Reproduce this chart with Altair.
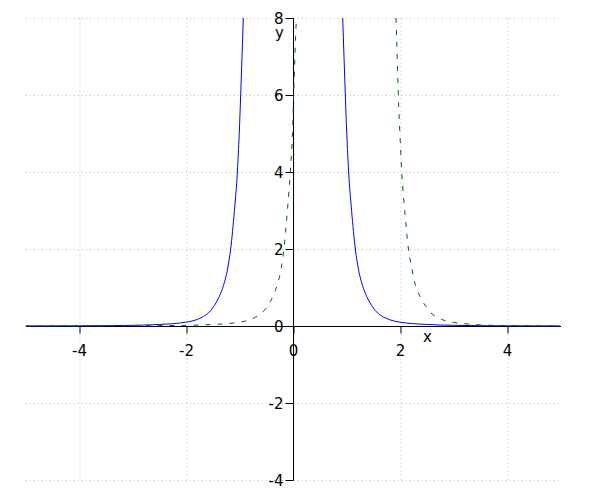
import altair as alt
import pandas as pd

# Blue solid curve (two branches)
blue_left_x = [-5.0, -4.5, -4.0, -3.5, -3.0, -2.5, -2.25, -2.0, -1.81, -1.7, -1.58, -1.5, -1.44, -1.38, -1.3, -1.22, -1.165, -1.095, -1.04, -1.005, -0.978, -0.953, -0.929]
blue_left_y = [0.002, 0.003, 0.005, 0.009, 0.017, 0.04, 0.06, 0.1, 0.16, 0.23, 0.34, 0.47, 0.6, 0.76, 1.05, 1.5, 2.0, 3.0, 4.0, 5.0, 6.0, 7.0, 8.0]
blue_right_x = [0.929, 0.953, 0.978, 1.005, 1.04, 1.095, 1.165, 1.22, 1.3, 1.38, 1.44, 1.5, 1.58, 1.7, 1.81, 2.0, 2.25, 2.5, 3.0, 3.5, 4.0, 4.5, 5.0]
blue_right_y = [8.0, 7.0, 6.0, 5.0, 4.0, 3.0, 2.0, 1.5, 1.05, 0.76, 0.6, 0.47, 0.34, 0.23, 0.16, 0.1, 0.06, 0.04, 0.017, 0.009, 0.005, 0.003, 0.002]

# Green dashed curve (two branches)
green_left_x = [-5.0, -4.0, -3.0, -2.5, -2.0, -1.5, -1.25, -1.0, -0.81, -0.7, -0.6, -0.5, -0.44, -0.37, -0.3, -0.22, -0.17, -0.105, -0.05, -0.01, 0.012, 0.036, 0.062]
green_left_y = [0.0005, 0.002, 0.005, 0.01, 0.017, 0.04, 0.06, 0.1, 0.16, 0.23, 0.32, 0.47, 0.6, 0.78, 1.05, 1.5, 2.0, 3.0, 4.0, 5.0, 6.0, 7.0, 8.0]
green_right_x = [1.925, 1.948, 1.968, 1.998, 2.033, 2.088, 2.158, 2.22, 2.29, 2.37, 2.44, 2.5, 2.57, 2.68, 2.78, 3.0, 3.25, 3.5, 3.75, 4.0, 4.5, 5.0]
green_right_y = [8.0, 7.0, 6.0, 5.0, 4.0, 3.0, 2.0, 1.5, 1.05, 0.78, 0.6, 0.48, 0.35, 0.24, 0.17, 0.095, 0.055, 0.028, 0.018, 0.012, 0.006, 0.004]

x_ticks = [-4, -2, 0, 2, 4]
y_ticks = [-4, -2, 0, 2, 4, 6, 8]

FONT = "DejaVu Sans"


def frame(xs, ys, branch):
    return pd.DataFrame({"x": xs, "y": ys, "branch": branch, "order": range(len(xs))})


blue_df = pd.concat([frame(blue_left_x, blue_left_y, "bl"), frame(blue_right_x, blue_right_y, "br")])
green_df = pd.concat([frame(green_left_x, green_left_y, "gl"), frame(green_right_x, green_right_y, "gr")])

W, H = 535, 462
xscale = alt.Scale(domain=[-5, 5], nice=False, zero=False)
yscale = alt.Scale(domain=[-4, 8], nice=False, zero=False)

x_axis = alt.Axis(
    values=x_ticks, offset=-154, domainColor="black", tickColor="black", tickSize=7,
    labelFontSize=15, labelFont=FONT, labelColor="black", labelPadding=10,
    labelExpr="'' + datum.value", grid=True, gridDash=[1, 3], gridColor="#bbbbbb",
    title="x", titleFont=FONT, titleFontSize=15, titleFontWeight="normal", titleColor="black",
    titleX=401.5, titleY=15.5, titleBaseline="alphabetic", titleAlign="center",
)
y_axis = alt.Axis(
    values=y_ticks, offset=-267.5, domainColor="black", tickColor="black", tickSize=8,
    labelFontSize=15, labelFont=FONT, labelColor="black", labelPadding=2,
    labelExpr="'' + datum.value", grid=True, gridDash=[1, 3], gridColor="#bbbbbb",
    title="y", titleFont=FONT, titleFontSize=15, titleFontWeight="normal", titleColor="black",
    titleAngle=0, titleX=-14, titleY=19, titleBaseline="alphabetic", titleAlign="center",
)

blue = alt.Chart(blue_df).mark_line(color="#0000ff", strokeWidth=1, clip=True, interpolate="monotone").encode(
    x=alt.X("x:Q", scale=xscale, axis=x_axis),
    y=alt.Y("y:Q", scale=yscale, axis=y_axis),
    detail="branch:N",
    order="order:Q",
)
green = alt.Chart(green_df).mark_line(color="#006400", strokeWidth=1, strokeDash=[5, 7], clip=True, interpolate="monotone").encode(
    x=alt.X("x:Q", scale=xscale),
    y=alt.Y("y:Q", scale=yscale),
    detail="branch:N",
    order="order:Q",
)

chart = alt.layer(blue, green).properties(
    width=W, height=H,
    autosize=alt.AutoSizeParams(type="none"),
    padding={"left": 17.5, "top": 10, "right": 10, "bottom": 20},
).configure_view(stroke=None)

chart.save("out.html", embed_options={"renderer": "svg", "actions": False})
